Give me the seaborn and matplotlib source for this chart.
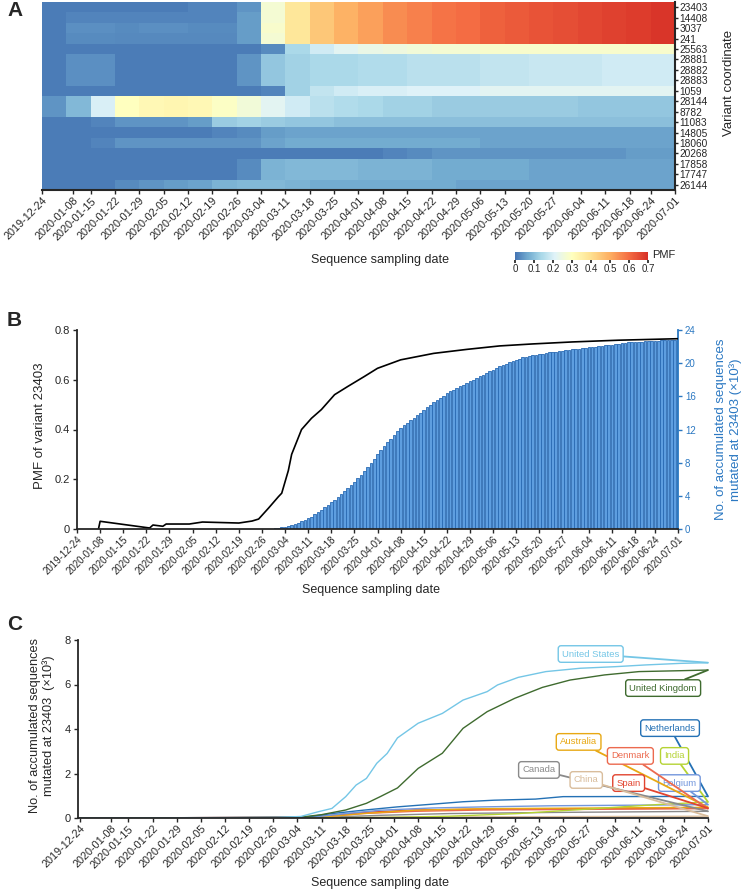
import numpy as np
import pandas as pd
import matplotlib
matplotlib.use("Agg")
import matplotlib.pyplot as plt
import seaborn as sns
from matplotlib.colors import LinearSegmentedColormap

# ---------------- data ----------------
tick_dates = ["2019-12-24", "2020-01-08", "2020-01-15", "2020-01-22", "2020-01-29",
              "2020-02-05", "2020-02-12", "2020-02-19", "2020-02-26", "2020-03-04",
              "2020-03-11", "2020-03-18", "2020-03-25", "2020-04-01", "2020-04-08",
              "2020-04-15", "2020-04-22", "2020-04-29", "2020-05-06", "2020-05-13",
              "2020-05-20", "2020-05-27", "2020-06-04", "2020-06-11", "2020-06-18",
              "2020-06-24", "2020-07-01"]

variants = ["23403", "14408", "3037", "241", "25563", "28881", "28882", "28883", "1059",
            "28144", "8782", "11083", "14805", "18060", "20268", "17858", "17747", "26144"]

# weekly PMF per variant (26 weekly bins, 2019-12-24 .. 2020-07-01)
row_23403 = [0.01, 0.01, 0.01, 0.01, 0.01, 0.01, 0.02, 0.02, 0.04, 0.27, 0.38, 0.45, 0.49,
             0.52, 0.55, 0.57, 0.59, 0.60, 0.62, 0.63, 0.64, 0.65, 0.66, 0.67, 0.68, 0.69]
row_14408 = [0.01, 0.02, 0.02, 0.02, 0.02, 0.02, 0.02, 0.02, 0.05, 0.27, 0.38, 0.45, 0.49,
             0.52, 0.55, 0.57, 0.59, 0.60, 0.62, 0.63, 0.64, 0.65, 0.66, 0.67, 0.68, 0.69]
row_3037 = [0.01, 0.035, 0.035, 0.03, 0.035, 0.035, 0.03, 0.03, 0.05, 0.28, 0.38, 0.45, 0.49,
            0.52, 0.55, 0.57, 0.59, 0.60, 0.62, 0.63, 0.64, 0.65, 0.66, 0.67, 0.68, 0.69]
row_241 = [0.01, 0.03, 0.03, 0.025, 0.025, 0.025, 0.025, 0.025, 0.05, 0.27, 0.38, 0.45, 0.49,
           0.52, 0.55, 0.57, 0.59, 0.60, 0.62, 0.63, 0.64, 0.65, 0.66, 0.67, 0.68, 0.69]
row_25563 = [0.01, 0.01, 0.01, 0.01, 0.01, 0.01, 0.01, 0.01, 0.01, 0.03, 0.14, 0.19, 0.22,
             0.24, 0.25, 0.26, 0.27, 0.27, 0.28, 0.28, 0.28, 0.28, 0.28, 0.28, 0.28, 0.28]
row_28881 = [0.01, 0.035, 0.035, 0.01, 0.01, 0.01, 0.01, 0.01, 0.04, 0.11, 0.13, 0.14, 0.14,
             0.15, 0.15, 0.16, 0.16, 0.16, 0.17, 0.17, 0.18, 0.18, 0.18, 0.19, 0.19, 0.19]
row_1059 = [0.01, 0.01, 0.01, 0.01, 0.01, 0.01, 0.01, 0.01, 0.01, 0.02, 0.13, 0.17, 0.19,
            0.20, 0.20, 0.21, 0.21, 0.21, 0.22, 0.22, 0.22, 0.22, 0.22, 0.22, 0.22, 0.22]
row_28144 = [0.04, 0.09, 0.20, 0.30, 0.32, 0.33, 0.32, 0.29, 0.26, 0.22, 0.19, 0.16, 0.15,
             0.14, 0.13, 0.13, 0.12, 0.12, 0.12, 0.12, 0.12, 0.12, 0.11, 0.11, 0.11, 0.11]
row_11083 = [0.01, 0.01, 0.02, 0.04, 0.04, 0.04, 0.05, 0.12, 0.13, 0.12, 0.11, 0.11, 0.10,
             0.10, 0.10, 0.10, 0.10, 0.10, 0.10, 0.10, 0.10, 0.10, 0.10, 0.10, 0.10, 0.10]
row_14805 = [0.01, 0.01, 0.01, 0.01, 0.01, 0.01, 0.01, 0.02, 0.03, 0.05, 0.06, 0.06, 0.06,
             0.06, 0.06, 0.06, 0.06, 0.06, 0.06, 0.06, 0.06, 0.06, 0.06, 0.06, 0.06, 0.06]
row_18060 = [0.01, 0.01, 0.02, 0.04, 0.04, 0.04, 0.04, 0.04, 0.04, 0.06, 0.07, 0.07, 0.07,
             0.07, 0.07, 0.07, 0.07, 0.07, 0.06, 0.06, 0.06, 0.06, 0.06, 0.06, 0.06, 0.06]
row_20268 = [0.01, 0.01, 0.01, 0.01, 0.01, 0.01, 0.01, 0.01, 0.01, 0.01, 0.01, 0.01, 0.01,
             0.01, 0.02, 0.03, 0.04, 0.04, 0.04, 0.04, 0.04, 0.04, 0.04, 0.04, 0.05, 0.05]
row_17858 = [0.01, 0.01, 0.01, 0.01, 0.01, 0.01, 0.01, 0.01, 0.03, 0.08, 0.09, 0.09, 0.09,
             0.08, 0.08, 0.08, 0.07, 0.07, 0.07, 0.07, 0.06, 0.06, 0.06, 0.06, 0.06, 0.06]
row_26144 = [0.01, 0.01, 0.01, 0.03, 0.04, 0.05, 0.06, 0.08, 0.09, 0.09, 0.08, 0.07, 0.07,
             0.07, 0.07, 0.07, 0.07, 0.06, 0.06, 0.06, 0.06, 0.06, 0.06, 0.06, 0.06, 0.06]

# panel B: PMF of 23403 (days after 2020-01-08)
pmf_days = [-0.5, 0, 15, 16, 19, 20, 27, 31, 42, 46, 48, 51, 54, 55, 57, 58, 61, 64, 67,
            71, 75, 80, 84, 91, 101, 111, 121, 131, 143, 157, 175]
pmf_values = [0, 0.031, 0.004, 0.016, 0.011, 0.02, 0.02, 0.028, 0.024, 0.032, 0.04, 0.084,
              0.13, 0.144, 0.235, 0.3, 0.4, 0.445, 0.48, 0.54, 0.573, 0.613, 0.646, 0.68,
              0.706, 0.722, 0.736, 0.744, 0.752, 0.759, 0.765]

# panel B: accumulated sequences mutated at 23403 (x10^3), one bar per day from day 50
bar_days = list(range(50, 176))
bar_counts = [0.02, 0.03, 0.05, 0.08, 0.12, 0.2, 0.3, 0.4, 0.5, 0.62, 0.75, 0.92, 1.1, 1.3,
              1.5, 1.75, 2.0, 2.3, 2.6, 2.9, 3.2, 3.55, 3.9, 4.25, 4.6, 4.95, 5.3, 5.7, 6.1,
              6.55, 7.0, 7.45, 7.9, 8.45, 9.0, 9.5, 10.0, 10.45, 10.9, 11.35, 11.8, 12.15,
              12.5, 12.8, 13.1, 13.4, 13.7, 14.05, 14.4, 14.7, 15.0, 15.3, 15.6, 15.85, 16.1,
              16.35, 16.6, 16.8, 17.0, 17.2, 17.4, 17.6, 17.8, 18.0, 18.2, 18.4, 18.6, 18.8,
              19.0, 19.2, 19.4, 19.6, 19.8, 19.95, 20.1, 20.25, 20.4, 20.55, 20.7, 20.8, 20.9,
              20.95, 21.0, 21.08, 21.15, 21.22, 21.3, 21.35, 21.4, 21.45, 21.5, 21.55, 21.6,
              21.65, 21.7, 21.75, 21.8, 21.85, 21.9, 21.95, 22.0, 22.05, 22.1, 22.15, 22.2,
              22.25, 22.3, 22.35, 22.4, 22.45, 22.5, 22.52, 22.55, 22.58, 22.6, 22.62, 22.65,
              22.68, 22.7, 22.72, 22.75, 22.76, 22.78, 22.79, 22.8, 22.82]

# panel C: accumulated sequences per country (x10^3)
us_days = [-7, 50, 57, 62, 66, 70, 73, 76, 79, 82, 85, 91, 98, 104, 111, 114, 120, 128, 138, 148, 157, 167, 175]
us_vals = [0, 0.02, 0.07, 0.28, 0.43, 0.96, 1.48, 1.78, 2.46, 2.9, 3.6, 4.26, 4.7, 5.3, 5.68, 5.98, 6.32, 6.58, 6.73, 6.8, 6.88, 6.95, 6.98]
uk_days = [-7, 56, 63, 70, 76, 80, 85, 91, 98, 104, 111, 119, 127, 135, 145, 155, 167, 175]
uk_vals = [0, 0.02, 0.15, 0.36, 0.66, 0.96, 1.35, 2.23, 2.91, 4.03, 4.78, 5.38, 5.87, 6.2, 6.43, 6.58, 6.62, 6.65]
nl_days = [-7, 58, 66, 75, 85, 95, 104, 113, 125, 133, 175]
nl_vals = [0, 0.03, 0.2, 0.35, 0.5, 0.62, 0.73, 0.8, 0.85, 0.96, 0.97]
in_days = [-7, 80, 100, 120, 140, 160, 175]
in_vals = [0, 0.02, 0.08, 0.2, 0.4, 0.6, 0.72]
be_days = [-7, 60, 70, 80, 95, 110, 130, 175]
be_vals = [0, 0.03, 0.2, 0.35, 0.45, 0.5, 0.55, 0.6]
au_days = [-7, 62, 75, 90, 110, 175]
au_vals = [0, 0.03, 0.2, 0.35, 0.42, 0.48]
dk_days = [-7, 62, 75, 90, 110, 175]
dk_vals = [0, 0.03, 0.2, 0.3, 0.36, 0.42]
es_days = [-7, 60, 75, 90, 110, 175]
es_vals = [0, 0.03, 0.25, 0.36, 0.4, 0.44]
ca_days = [-7, 62, 80, 100, 130, 175]
ca_vals = [0, 0.02, 0.12, 0.2, 0.25, 0.3]
cn_days = [-7, 30, 60, 100, 175]
cn_vals = [0, 0.01, 0.03, 0.05, 0.08]

countries = ["United States", "United Kingdom", "Netherlands", "India", "Belgium",
             "Australia", "Denmark", "Spain", "Canada", "China"]
country_colors = ["#74c6e6", "#3f6b2f", "#2471b5", "#b5d334", "#7397dc",
                  "#e8a813", "#ec6a4f", "#e2442f", "#8a8a8a", "#d9bd9c"]
# label box centres (day, value)
label_pos = [(141, 7.37), (162, 5.84), (164, 4.04), (165.3, 2.79), (166.7, 1.57),
             (137.5, 3.42), (152.5, 2.79), (152, 1.57), (126, 2.16), (139.7, 1.71)]

# ---------------- figure ----------------
sns.set_theme(style="ticks")
plt.rcParams["font.family"] = ["Liberation Sans", "DejaVu Sans"]
plt.rcParams["axes.linewidth"] = 1.3

W, H = 743, 890
fig = plt.figure(figsize=(W / 100, H / 100), dpi=100)


def px_axes(left, top, right, bottom):
    return fig.add_axes([left / W, 1 - bottom / H, (right - left) / W, (bottom - top) / H])


tick_days = list((pd.to_datetime(tick_dates) - pd.Timestamp("2020-01-08")).days)
tick_days[0] = -7
tick_days_ac = list(tick_days)
tick_days_ac[1] = 2

# ---- A: heatmap ----
cmap = LinearSegmentedColormap.from_list(
    "pmf", [(0, "#4575b4"), (0.1, "#74add1"), (0.2, "#abd9e9"), (0.3, "#e0f3f8"),
            (3 / 7, "#ffffbf"), (4 / 7, "#fee090"), (5 / 7, "#fdae61"), (6 / 7, "#f46d43"),
            (1, "#d73027")])
heat = pd.DataFrame([row_23403, row_14408, row_3037, row_241, row_25563, row_28881,
                     row_28881, row_28881, row_1059, row_28144, row_28144, row_11083,
                     row_14805, row_18060, row_20268, row_17858, row_17858, row_26144],
                    index=variants)

ax_a = px_axes(42, 2, 675, 190)
cax = px_axes(515, 252, 648, 260)
sns.heatmap(heat, ax=ax_a, cmap=cmap, vmin=0, vmax=0.7, cbar_ax=cax,
            cbar_kws={"orientation": "horizontal", "ticks": np.arange(0, 0.71, 0.1)},
            xticklabels=False, yticklabels=True)
ax_a.set_xticks([(d + 7) / 7 for d in tick_days_ac])
ax_a.set_xticklabels(tick_dates, rotation=45, ha="right", rotation_mode="anchor", fontsize=7.8)
ax_a.yaxis.tick_right()
ax_a.tick_params(axis="y", labelright=True, labelleft=False, labelrotation=0,
                 labelsize=7.3, length=2, pad=1, width=1)
ax_a.tick_params(axis="x", length=3, width=1, pad=1)
for s in ["bottom", "right"]:
    ax_a.spines[s].set_visible(True)
    ax_a.spines[s].set_linewidth(1.5)
for s in ["top", "left"]:
    ax_a.spines[s].set_visible(False)
ax_a.set_xlabel("Sequence sampling date", fontsize=9)
ax_a.xaxis.set_label_coords(0.534, -0.34)
ax_a.set_ylabel("Variant coordinate", fontsize=9.5, rotation=90)
ax_a.yaxis.set_label_position("right")
ax_a.yaxis.set_label_coords(1.076, 0.57)

cbar = ax_a.collections[0].colorbar
cbar.outline.set_visible(False)
cax.tick_params(labelsize=7, length=2, pad=1)
cax.set_xticklabels(["0", "0.1", "0.2", "0.3", "0.4", "0.5", "0.6", "0.7"])
fig.text(652 / W, 1 - 255 / H, "PMF", fontsize=8, va="center", ha="left")

# ---- B: PMF line + accumulated bars ----
blue = "#2b78c2"
ax_b = px_axes(77, 330, 678, 529)
ax_n = ax_b.twinx()
ax_n.bar(bar_days, bar_counts, width=0.8, color="#5e9ee0", edgecolor="#2a6ab3", linewidth=0.6)
sns.lineplot(x=pmf_days, y=pmf_values, ax=ax_b, color="black", linewidth=1.2)
ax_b.set_zorder(ax_n.get_zorder() + 1)
ax_b.patch.set_visible(False)

ax_b.set_xlim(-7, 175)
ax_b.set_ylim(0, 0.8)
ax_n.set_ylim(0, 24)
ax_b.set_yticks([0, 0.2, 0.4, 0.6, 0.8])
ax_b.set_yticklabels(["0", "0.2", "0.4", "0.6", "0.8"])
ax_n.set_yticks(range(0, 25, 4))
ax_b.set_xticks(tick_days)
ax_b.set_xticklabels(tick_dates, rotation=45, ha="right", rotation_mode="anchor", fontsize=6.9)
ax_b.tick_params(axis="x", length=3, width=1, pad=1)
ax_b.tick_params(axis="y", labelsize=8, length=3, width=1, pad=2)
ax_n.tick_params(axis="y", labelsize=7, length=3, width=1, pad=2, colors=blue)
for a in (ax_b, ax_n):
    a.spines["top"].set_visible(False)
ax_b.spines["right"].set_visible(False)
ax_n.spines["left"].set_visible(False)
ax_n.spines["bottom"].set_visible(False)
ax_n.spines["right"].set_color(blue)
ax_b.set_xlabel("Sequence sampling date", fontsize=9)
ax_b.xaxis.set_label_coords(0.49, -0.275)
ax_b.set_ylabel("PMF of variant 23403", fontsize=9.5)
ax_b.yaxis.set_label_coords(-0.052, 0.52)
ax_n.set_ylabel("No. of accumulated sequences\nmutated at 23403 (×10³)", fontsize=9.5,
                color=blue, multialignment="center")
ax_n.yaxis.set_label_coords(1.062, 0.5)

# ---- C: per-country accumulation ----
day_lists = [us_days, uk_days, nl_days, in_days, be_days, au_days, dk_days, es_days, ca_days, cn_days]
val_lists = [us_vals, uk_vals, nl_vals, in_vals, be_vals, au_vals, dk_vals, es_vals, ca_vals, cn_vals]
df_c = pd.concat([pd.DataFrame({"day": d, "count": v, "country": c})
                  for d, v, c in zip(day_lists, val_lists, countries)], ignore_index=True)

ax_c = px_axes(78, 640, 708, 818)
sns.lineplot(data=df_c, x="day", y="count", hue="country", hue_order=countries[::-1],
             palette=dict(zip(countries, country_colors)), estimator=None, legend=False,
             linewidth=1.0, ax=ax_c)
for name, col, vals, (lx, ly) in zip(countries, country_colors, val_lists, label_pos):
    ax_c.annotate(name, xy=(175, vals[-1]), xytext=(lx, ly), textcoords="data",
                  fontsize=6.8, color=col, ha="center", va="center",
                  bbox=dict(boxstyle="round,pad=0.4,rounding_size=0.3", fc="white", ec=col, lw=1.0),
                  arrowprops=dict(arrowstyle="-", color=col, lw=1.3, shrinkA=0, shrinkB=0))
ax_c.set_xlim(-7.6, 175)
ax_c.set_ylim(0, 8)
ax_c.set_yticks([0, 2, 4, 6, 8])
ax_c.set_xticks(tick_days_ac)
ax_c.set_xticklabels(tick_dates, rotation=45, ha="right", rotation_mode="anchor", fontsize=7.8)
ax_c.tick_params(axis="x", length=3, width=1, pad=1)
ax_c.tick_params(axis="y", labelsize=8, length=3, width=1, pad=2)
ax_c.spines["top"].set_visible(False)
ax_c.spines["right"].set_visible(False)
ax_c.set_xlabel("Sequence sampling date", fontsize=9)
ax_c.xaxis.set_label_coords(0.48, -0.33)
ax_c.set_ylabel("No. of accumulated sequences\nmutated at 23403  (×10³)", fontsize=9.2,
                multialignment="center")
ax_c.yaxis.set_label_coords(-0.036, 0.517)

for letter, y in [("A", 11), ("B", 320), ("C", 625)]:
    fig.text(7 / W, 1 - y / H, letter, fontsize=15, fontweight="bold", va="center", ha="left")

fig.savefig("out.png", dpi=100)
